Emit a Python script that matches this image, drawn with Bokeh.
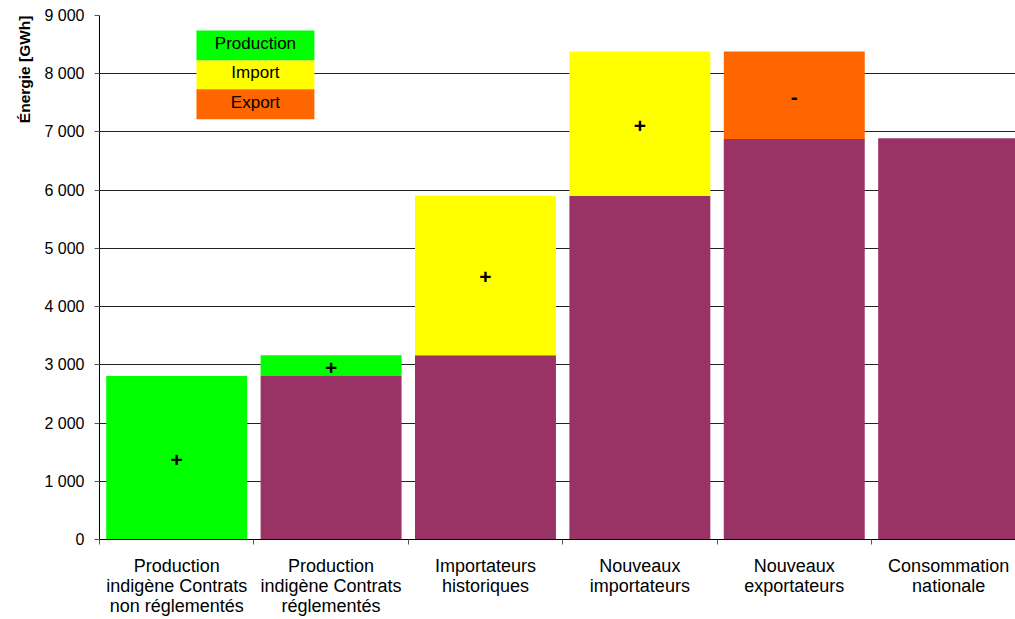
import math
from bokeh.plotting import figure
from bokeh.models import Range1d, FixedTicker, BoxAnnotation, Label, Title
from bokeh.core.properties import value
from bokeh.embed import file_html
from bokeh.resources import INLINE

categories = [
    "Production\nindigène Contrats\nnon réglementés",
    "Production\nindigène Contrats\nréglementés",
    "Importateurs\nhistoriques",
    "Nouveaux\nimportateurs",
    "Nouveaux\nexportateurs",
    "Consommation\nnationale",
]
base_values = [0, 2810, 3165, 5905, 6880, 6890]
delta_values = [2810, 355, 2740, 2475, 1500, 0]
delta_kind = ["Production", "Production", "Import", "Import", "Export", None]
delta_sign = ["+", "+", "+", "+", "-", ""]
legend_items = ["Production", "Import", "Export"]
y_ticks = [0, 1000, 2000, 3000, 4000, 5000, 6000, 7000, 8000, 9000]

colors = {"Production": "#00FF00", "Import": "#FFFF00", "Export": "#FF6600"}
base_color = "#993366"
FONT = "Liberation Sans"

p = figure(width=1015, height=619, output_backend="svg", toolbar_location=None,
           x_range=Range1d(0, 5.933), y_range=Range1d(0, 9000),
           min_border_left=99, min_border_right=0, min_border_top=15,
           min_border_bottom=79)
p.outline_line_color = None
p.xgrid.visible = False
p.ygrid.grid_line_color = "#222222"
p.ygrid.grid_line_width = 1

n = len(categories)
xs = [i + 0.5 for i in range(n)]
bw = 0.913

bottoms = list(base_values)
tops = [b + d for b, d in zip(base_values, delta_values)]

p.vbar(x=[x for x, b in zip(xs, base_values) if b > 0],
       top=[b for b in base_values if b > 0], bottom=0, width=bw,
       fill_color=base_color, line_color=None)
dx = [x for x, d in zip(xs, delta_values) if d > 0]
db = [b for b, d in zip(bottoms, delta_values) if d > 0]
dt = [t for t, d in zip(tops, delta_values) if d > 0]
dc = [colors[k] for k, d in zip(delta_kind, delta_values) if d > 0]
p.vbar(x=dx, bottom=db, top=dt, width=bw, fill_color=dc, line_color=None)

sx = [x for x, s in zip(xs, delta_sign) if s]
sy = [(b + t) / 2 for b, t, s in zip(bottoms, tops, delta_sign) if s]
ss = [s for s in delta_sign if s]
p.text(x=sx, y=sy, text=ss, text_align="center", text_baseline="middle",
       y_offset=2,
       text_font=value(FONT), text_font_size="21px", text_font_style="bold",
       text_color="black")

# axes
p.xaxis.ticker = FixedTicker(ticks=xs, minor_ticks=list(range(n + 1)))
p.xaxis.major_label_overrides = {x: c for x, c in zip(xs, categories)}
p.xaxis.major_tick_line_color = None
p.xaxis.minor_tick_line_color = "#555555"
p.xaxis.minor_tick_in = 0
p.xaxis.minor_tick_out = 5
p.xaxis.axis_line_color = "black"
p.xaxis.major_label_text_font = FONT
p.xaxis.major_label_text_font_size = "18px"
p.xaxis.major_label_text_color = "black"
p.xaxis.major_label_text_line_height = 1.015
p.xaxis.major_label_standoff = 10

p.yaxis.ticker = FixedTicker(ticks=y_ticks, minor_ticks=[])
p.yaxis.major_label_overrides = {t: f"{t:,}".replace(",", " ") for t in y_ticks}
p.yaxis.major_tick_in = 0
p.yaxis.major_tick_out = 5
p.yaxis.major_tick_line_color = "#555555"
p.yaxis.axis_line_color = "black"
p.yaxis.major_label_text_font = FONT
p.yaxis.major_label_text_font_size = "16px"
p.yaxis.major_label_text_color = "black"
p.yaxis.major_label_standoff = 10

# axis title (placed at the top of the left side, as in the reference)
p.add_layout(Title(text="Énergie [GWh]", align="right", standoff=17, offset=0,
                   text_font=FONT, text_font_size="15.5px", text_font_style="bold",
                   text_color="black"), "left")

# legend boxes
box_left, box_right = 0.628, 1.392
box_edges = [8743, 8229, 7732, 7218]
for i, name in enumerate(legend_items):
    top, bot = box_edges[i], box_edges[i + 1]
    p.add_layout(BoxAnnotation(left=box_left, right=box_right, top=top, bottom=bot,
                               fill_color=colors[name], fill_alpha=1, line_color=None,
                               level="annotation"))
    p.add_layout(Label(x=(box_left + box_right) / 2, y=(top + bot) / 2, text=name,
                       y_offset=2,
                       text_align="center", text_baseline="middle",
                       text_font=FONT, text_font_size="17px", text_color="black",
                       level="overlay"))

open("out.html", "w").write(file_html(p, INLINE))
